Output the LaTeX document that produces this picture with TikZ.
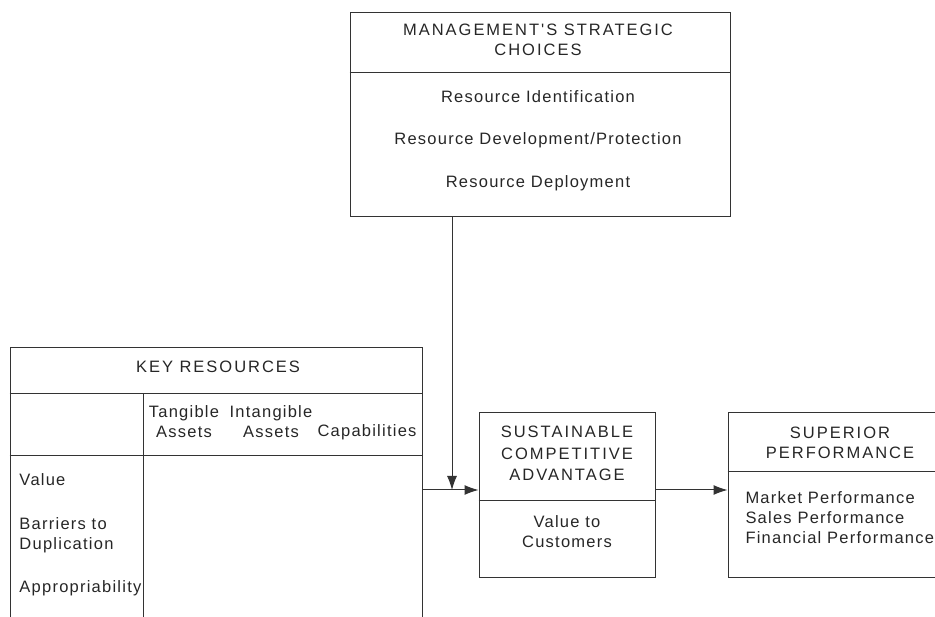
\documentclass[tikz,border=0pt]{standalone}
\usepackage{fontspec}
\setmainfont[LetterSpace=7.5]{Liberation Sans}
\newfontfamily\headfont[LetterSpace=12]{Liberation Sans}
\usetikzlibrary{arrows.meta}
\begin{document}
\begin{tikzpicture}[x=1pt,y=-1pt,>={Latex[length=14pt,width=10pt]},line width=1pt]
    \tikzstyle{every node} = [font=\fontsize{16.5}{20}\selectfont, inner sep=0pt, text=black!85]
    \tikzstyle{box} = [draw=black!80, rectangle]
    \tikzstyle{rule} = [draw=black!80]
    \tikzstyle{head} = [align=center, font=\headfont\fontsize{16.5}{20}\selectfont]
    \useasboundingbox (0,0) rectangle (935,617);
    \clip (0,0) rectangle (935,617);
    % frames
    \node[box, minimum width=380, minimum height=204] (choices) at (540,115) {};
    \node[box, minimum width=412, minimum height=292] (keyres) at (216,494) {};
    \node[box, minimum width=176, minimum height=164] (sca) at (567,495) {};
    \node[box, minimum width=222, minimum height=164] (perf) at (839,495) {};
    % dividers
    \draw[rule] (choices.west |- 0,73) -- (choices.east |- 0,73);
    \draw[rule] (keyres.west |- 0,394) -- (keyres.east |- 0,394);
    \draw[rule] (keyres.west |- 0,456) -- (keyres.east |- 0,456);
    \draw[rule] (143,394) -- (143,640);
    \draw[rule] (sca.west |- 0,501) -- (sca.east |- 0,501);
    \draw[rule] (perf.west |- 0,472) -- (perf.east |- 0,472);
    % texts
    \node[head] (choicestitle) at (538,40) {MANAGEMENT'S STRATEGIC\\CHOICES};
    \node (ident) at (538,97) {Resource Identification};
    \node (develop) at (538,140) {Resource Development/Protection};
    \node (deploy) at (538,183) {Resource Deployment};
    \node[head] (keytitle) at (218,367) {KEY RESOURCES};
    \node (tangible) at (184,422) [align=center] {Tangible\\Assets};
    \node (intangible) at (271,422) [align=center] {Intangible\\Assets};
    \node (capab) at (367,432) {Capabilities};
    \node (value) [anchor=west] at (19,480) {Value};
    \node (barriers) [anchor=west, align=left] at (19,535) {Barriers to\\Duplication};
    \node (approp) [anchor=west] at (19,588) {Appropriability};
    \node[head, font=\headfont\fontsize{16.5}{21.5}\selectfont] (scatitle) at (567,453.5) {SUSTAINABLE\\COMPETITIVE\\ADVANTAGE};
    \node (custvalue) at (567,532) [align=center] {Value to\\Customers};
    \node[head] (perftitle) at (840,442.5) {SUPERIOR\\PERFORMANCE};
    \node (measures) [anchor=west, align=left] at (745,517.5) {Market Performance\\Sales Performance\\Financial Performance};
    % links
    \coordinate (join) at (452,490);
    \draw[->, rule] (choices.south -| join) -- (join);
    \foreach \from/\to in {keyres/sca, sca/perf}
        \draw[->, rule] (\from.east |- join) -- (\to.west |- join);
\end{tikzpicture}
\end{document}
